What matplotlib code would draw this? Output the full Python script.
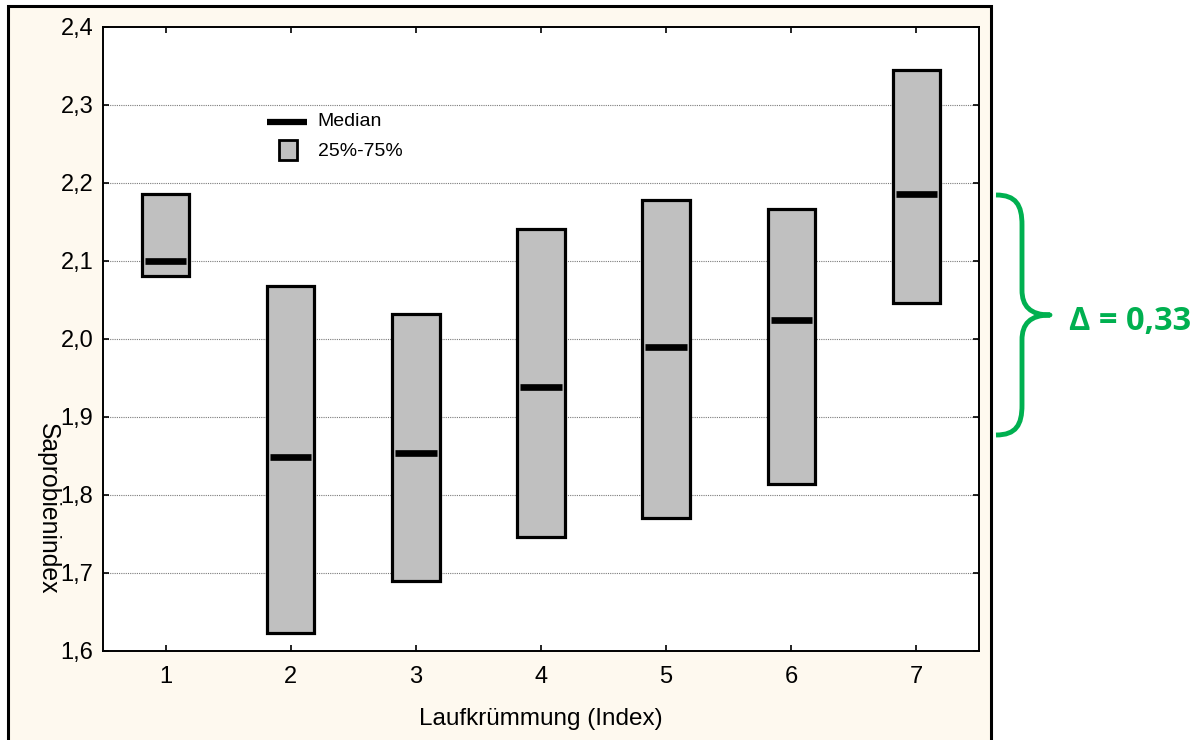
import matplotlib
matplotlib.use("Agg")
import matplotlib.pyplot as plt
from matplotlib.patches import Rectangle, PathPatch
from matplotlib.path import Path
from matplotlib.lines import Line2D

# ---- data ----
categories = [1, 2, 3, 4, 5, 6, 7]
q25 = [2.081, 1.623, 1.690, 1.746, 1.770, 1.814, 2.046]
q75 = [2.186, 2.068, 2.032, 2.141, 2.178, 2.167, 2.345]
medians = [2.100, 1.849, 1.854, 1.938, 1.990, 2.024, 2.186]
ytick_values = [1.6, 1.7, 1.8, 1.9, 2.0, 2.1, 2.2, 2.3, 2.4]
ytick_labels = ["1,6", "1,7", "1,8", "1,9", "2,0", "2,1", "2,2", "2,3", "2,4"]
xlabel = "Laufkrümmung (Index)"
ylabel = "Saprobienindex"
legend_labels = ["Median", "25%-75%"]
delta_text = "Δ = 0,33"

plt.rcParams["font.family"] = ["Liberation Sans", "DejaVu Sans"]

W, H = 1198, 740
fig = plt.figure(figsize=(W / 100, H / 100), dpi=100)
fig.patch.set_facecolor("white")

def fx(px):
    return px / W

def fy(py):
    return 1 - py / H

# cream panel with black border
panel = Rectangle((fx(8), fy(760)), fx(991) - fx(8), fy(6) - fy(760),
                  transform=fig.transFigure, facecolor="#FEF9EF",
                  edgecolor="black", linewidth=2.2, zorder=-5)
fig.patches.append(panel)

ax = fig.add_axes([fx(103), fy(651), fx(979) - fx(103), fy(27) - fy(651)])
ax.set_zorder(2)
ax.set_facecolor("white")
ax.set_xlim(0.5, 7.5)
ax.set_ylim(1.6, 2.4)

# grid
for v in ytick_values[1:-1]:
    ax.axhline(v, color="#7a7a7a", linewidth=0.8, linestyle=(0, (1, 1)), zorder=1)

heights = [t - b for t, b in zip(q75, q25)]
ax.bar(categories, heights, bottom=q25, width=0.38, color="#C0C0C0",
       edgecolor="black", linewidth=2.3, zorder=3)
ax.hlines(medians, [c - 0.165 for c in categories], [c + 0.165 for c in categories],
          colors="black", linewidth=4.8, zorder=4, capstyle="butt")

ax.set_xticks(categories)
ax.set_xticklabels([str(c) for c in categories])
ax.set_yticks(ytick_values)
ax.set_yticklabels(ytick_labels)
ax.tick_params(axis="both", direction="in", length=4, width=1.2,
               labelsize=17, colors="black")
ax.tick_params(axis="x", top=True, pad=11)
ax.tick_params(axis="y", right=True, pad=7)
for s in ax.spines.values():
    s.set_linewidth(1.4)
    s.set_color("black")

ax.set_xlabel(xlabel, fontsize=17.5)
ax.xaxis.set_label_coords(0.5, -0.092)
ax.text(-0.063, 0.2276, ylabel, transform=ax.transAxes, rotation=270,
        ha="center", va="center", fontsize=17.8, clip_on=False)

# legend (manual)
ax.add_line(Line2D([0.187, 0.233], [0.848, 0.848], transform=ax.transAxes,
                   color="black", linewidth=4.5, solid_capstyle="butt", zorder=5))
ax.text(0.245, 0.848, legend_labels[0], transform=ax.transAxes,
        ha="left", va="center", fontsize=14)
ax.add_patch(Rectangle((0.2009, 0.787), 0.0206, 0.032, transform=ax.transAxes,
                       facecolor="#C0C0C0", edgecolor="black", linewidth=2.0, zorder=5))
ax.text(0.245, 0.801, legend_labels[1], transform=ax.transAxes,
        ha="left", va="center", fontsize=14)

# green brace
pts = [(996, 195), (1016, 195), (1022, 205), (1022, 225),
       (1022, 290),
       (1022, 306), (1030, 315), (1050, 315),
       (1030, 315), (1022, 324), (1022, 340),
       (1022, 405),
       (1022, 425), (1016, 435), (996, 435)]
codes = [Path.MOVETO, Path.CURVE4, Path.CURVE4, Path.CURVE4,
         Path.LINETO,
         Path.CURVE4, Path.CURVE4, Path.CURVE4,
         Path.CURVE4, Path.CURVE4, Path.CURVE4,
         Path.LINETO,
         Path.CURVE4, Path.CURVE4, Path.CURVE4]
path = Path([(fx(x), fy(y)) for x, y in pts], codes)
fig.patches.append(PathPatch(path, transform=fig.transFigure, facecolor="none",
                             edgecolor="#00B050", linewidth=3.5,
                             capstyle="butt", joinstyle="round"))
fig.text(fx(1069), fy(321), delta_text, ha="left", va="center",
         fontsize=23.5, fontweight="bold", color="#00B050",
         family=["Open Sans", "DejaVu Sans"])

fig.savefig("out.png", dpi=100, facecolor="white")
